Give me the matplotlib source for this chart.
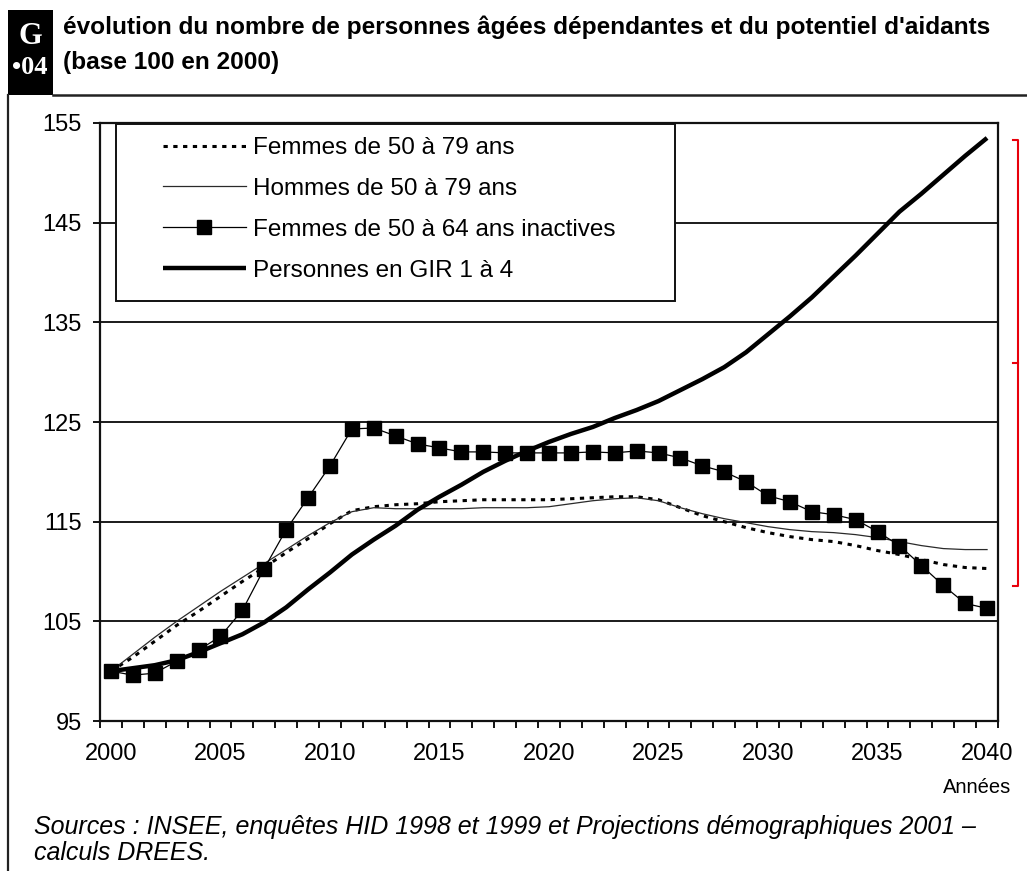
import matplotlib
matplotlib.use("Agg")
import matplotlib.pyplot as plt
from matplotlib.patches import Rectangle
from matplotlib.lines import Line2D

W, H = 1027, 871

years = list(range(2000, 2041))
femmes_50_79 = [100.0, 101.4, 103.0, 104.6, 106.0, 107.5, 109.0, 110.4, 111.9, 113.3,
                114.8, 116.1, 116.5, 116.7, 116.8, 117.0, 117.1, 117.2, 117.2, 117.2,
                117.2, 117.3, 117.4, 117.5, 117.5, 117.2, 116.4, 115.6, 115.0, 114.4,
                113.9, 113.5, 113.2, 113.0, 112.6, 112.1, 111.7, 111.2, 110.7, 110.4,
                110.3]
hommes_50_79 = [100.0, 101.7, 103.4, 105.0, 106.5, 108.0, 109.4, 110.8, 112.2, 113.6,
                114.9, 116.0, 116.4, 116.3, 116.3, 116.3, 116.3, 116.4, 116.4, 116.4,
                116.5, 116.8, 117.1, 117.3, 117.4, 117.1, 116.4, 115.8, 115.3, 114.9,
                114.5, 114.2, 114.0, 113.9, 113.7, 113.4, 113.0, 112.6, 112.3, 112.2,
                112.2]
femmes_inactives = [100.0, 99.6, 99.8, 101.0, 102.1, 103.5, 106.1, 110.3, 114.2, 117.4,
                    120.6, 124.3, 124.4, 123.6, 122.8, 122.4, 122.0, 122.0, 121.9, 121.9,
                    121.9, 121.9, 122.0, 121.9, 122.1, 121.9, 121.4, 120.6, 120.0, 119.0,
                    117.6, 117.0, 116.0, 115.7, 115.2, 114.0, 112.6, 110.6, 108.6, 106.8,
                    106.3]
gir_1_4 = [100.0, 100.3, 100.6, 101.1, 101.9, 102.8, 103.7, 104.9, 106.4, 108.2,
           109.9, 111.7, 113.2, 114.6, 116.2, 117.5, 118.7, 120.0, 121.1, 122.1,
           123.0, 123.8, 124.5, 125.4, 126.2, 127.1, 128.2, 129.3, 130.5, 132.0,
           133.8, 135.6, 137.5, 139.6, 141.7, 143.9, 146.1, 147.9, 149.8, 151.7,
           153.5]

labels = ["Femmes de 50 à 79 ans", "Hommes de 50 à 79 ans",
          "Femmes de 50 à 64 ans inactives", "Personnes en GIR 1 à 4"]
x_ticks = [2000, 2005, 2010, 2015, 2020, 2025, 2030, 2035, 2040]
y_ticks = [95, 105, 115, 125, 135, 145, 155]

title_1 = "évolution du nombre de personnes âgées dépendantes et du potentiel d'aidants"
title_2 = "(base 100 en 2000)"
source = ("Sources : INSEE, enquêtes HID 1998 et 1999 et Projections démographiques 2001 –\n"
          "calculs DREES.")

plt.rcParams["font.family"] = ["Liberation Sans", "DejaVu Sans"]


def fx(px):
    return px / W


def fy(py):
    return 1 - py / H


fig = plt.figure(figsize=(W / 100, H / 100), dpi=100)
fig.patch.set_facecolor("white")
ax = fig.add_axes([fx(100), fy(721), (998 - 100) / W, (721 - 123) / H])

ax.plot(years, femmes_50_79, color="black", lw=2.2, linestyle=(0, (1.4, 1.8)),
        label=labels[0], zorder=3)
ax.plot(years, hommes_50_79, color="#2a2a2a", lw=0.9, label=labels[1], zorder=3)
ax.plot(years, femmes_inactives, color="black", lw=0.9, marker="s", markersize=9.5,
        label=labels[2], zorder=3)
ax.plot(years, gir_1_4, color="black", lw=3.2, label=labels[3], zorder=3,
        solid_capstyle="butt")

ax.set_xlim(1999.5, 2040.5)
ax.set_ylim(95, 155)
ax.set_yticks(y_ticks)
ax.set_xticks(x_ticks)
ax.set_xticks([y + 0.5 for y in range(1999, 2041)], minor=True)
ax.tick_params(axis="x", which="major", length=0, pad=16, labelsize=17)
ax.tick_params(axis="x", which="minor", length=5, width=1.3, direction="out")
ax.tick_params(axis="y", length=5, width=1.3, pad=8, labelsize=17)
ax.yaxis.grid(True, color="#1a1a1a", lw=1.4)
ax.set_axisbelow(True)
for sp in ax.spines.values():
    sp.set_linewidth(1.6)
    sp.set_color("#111111")

# legend box
ax.add_patch(Rectangle((fx(116), fy(301)), (675 - 116) / W, (301 - 124) / H,
                       transform=fig.transFigure, facecolor="white",
                       edgecolor="#111111", lw=1.4, zorder=4))
leg = ax.legend(loc="upper left", bbox_to_anchor=(fx(163), fy(137)),
                bbox_transform=fig.transFigure, frameon=False, borderpad=0,
                borderaxespad=0, fontsize=17.5, handlelength=3.4, handletextpad=0.3,
                labelspacing=0.78, numpoints=1)
leg.set_zorder(5)

# header
fig.add_artist(Rectangle((fx(8), fy(95)), 45 / W, 85 / H, transform=fig.transFigure,
                         facecolor="black", edgecolor="none"))
fig.text(fx(30.5), fy(36), "G", color="white", fontsize=22, fontweight="bold",
         family="Liberation Serif", ha="center", va="center")
fig.text(fx(30), fy(68), "•04", color="white", fontsize=19, fontweight="bold",
         family="Liberation Serif", ha="center", va="center")
fig.add_artist(Line2D([fx(53), 1.0], [fy(95.5), fy(95.5)], color="#222222", lw=1.8,
                      transform=fig.transFigure))
fig.add_artist(Line2D([fx(8), fx(8)], [fy(95), 0.0], color="#222222", lw=1.6,
                      transform=fig.transFigure))

t1 = fig.text(fx(63), fy(27), title_1, fontsize=19, fontweight="bold",
              family=["Liberation Sans Narrow", "Liberation Sans"], va="center", ha="left")
t2 = fig.text(fx(63), fy(63), title_2, fontsize=19, fontweight="bold",
              family=["Liberation Sans Narrow", "Liberation Sans"], va="center", ha="left")
fig.canvas.draw()
w1 = t1.get_window_extent().width
if w1 > 925:
    s = 19 * 925 / w1
    t1.set_fontsize(s)
    t2.set_fontsize(s)

fig.text(fx(1011), fy(787), "Années", fontsize=14.5, ha="right", va="center")
fig.text(fx(34), fy(840), source, fontsize=18, style="italic", ha="left",
         va="center", linespacing=1.15)

# red bracket
red = "#e8000b"
for xs, ys in [([1013, 1018, 1018, 1013], [140, 140, 586, 586]),
               ([1013, 1018], [363, 363])]:
    fig.add_artist(Line2D([fx(v) for v in xs], [fy(v) for v in ys], color=red,
                          lw=1.5, transform=fig.transFigure))

fig.savefig("out.png", dpi=100)
